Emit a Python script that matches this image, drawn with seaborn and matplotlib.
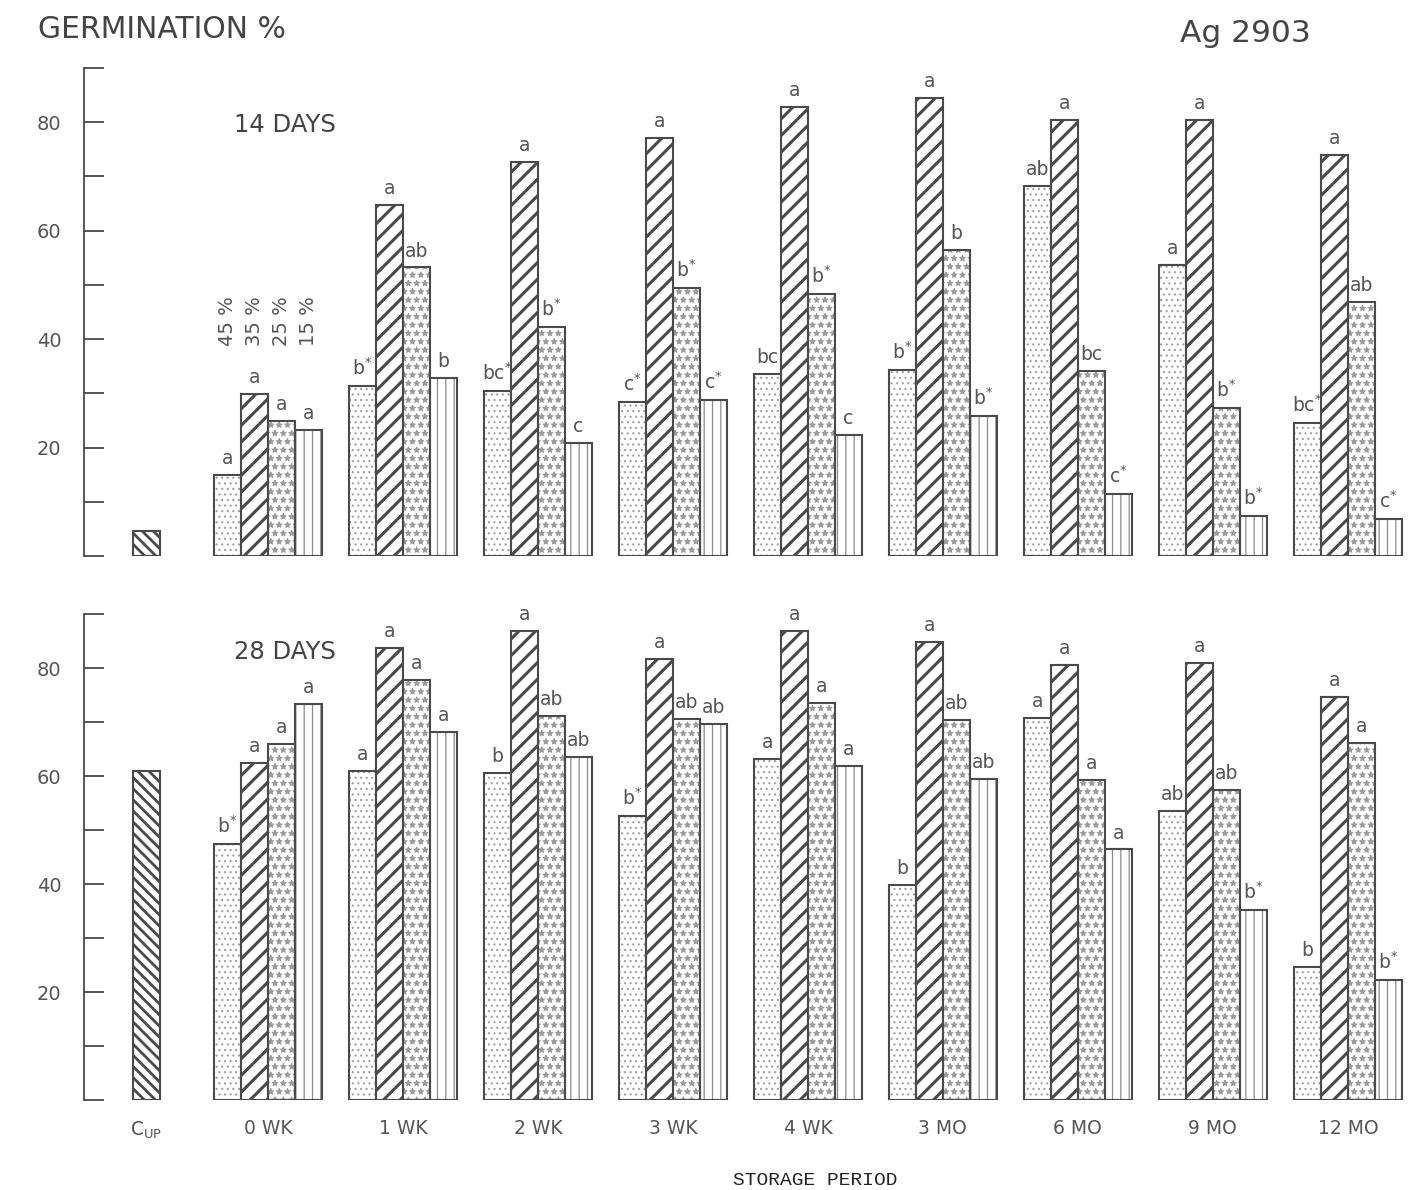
import numpy as np
import pandas as pd
import matplotlib
matplotlib.use("Agg")
import matplotlib.pyplot as plt
from matplotlib.patches import Rectangle
import seaborn as sns

# ---------------- data ----------------
periods = ["C_UP", "0 WK", "1 WK", "2 WK", "3 WK", "4 WK", "3 MO", "6 MO", "9 MO", "12 MO"]
storage = periods[1:]
moisture = ["45 %", "35 %", "25 %", "15 %"]
tick_labels = [r"C$_{\mathrm{UP}}$", "0 WK", "1 WK", "2 WK", "3 WK", "4 WK",
               "3 MO", "6 MO", "9 MO", "12 MO"]

# 14 days
germ14_45 = [15.0, 31.3, 30.4, 28.4, 33.5, 34.3, 68.2, 53.6, 24.6]
germ14_35 = [29.8, 64.8, 72.6, 77.0, 82.8, 84.5, 80.4, 80.4, 73.9]
germ14_25 = [24.9, 53.2, 42.3, 49.5, 48.4, 56.4, 34.2, 27.3, 46.9]
germ14_15 = [23.3, 32.9, 20.9, 28.7, 22.4, 25.8, 11.4, 7.3, 6.8]
cup14 = 4.6
let14_45 = ["a", "b*", "bc*", "c*", "bc", "b*", "ab", "a", "bc*"]
let14_35 = ["a", "a", "a", "a", "a", "a", "a", "a", "a"]
let14_25 = ["a", "ab", "b*", "b*", "b*", "b", "bc", "b*", "ab"]
let14_15 = ["a", "b", "c", "c*", "c", "b*", "c*", "b*", "c*"]

# 28 days
germ28_45 = [47.4, 61.0, 60.5, 52.6, 63.1, 39.8, 70.8, 53.6, 24.7]
germ28_35 = [62.4, 83.7, 86.9, 81.6, 86.9, 84.9, 80.6, 81.0, 74.7]
germ28_25 = [65.9, 77.8, 71.1, 70.5, 73.6, 70.4, 59.3, 57.4, 66.2]
germ28_15 = [73.3, 68.1, 63.5, 69.6, 61.9, 59.4, 46.4, 35.2, 22.3]
cup28 = 60.9
let28_45 = ["b*", "a", "b", "b*", "a", "b", "a", "ab", "b"]
let28_35 = ["a", "a", "a", "a", "a", "a", "a", "a", "a"]
let28_25 = ["a", "a", "ab", "ab", "a", "ab", "a", "ab", "a"]
let28_15 = ["a", "a", "ab", "ab", "a", "ab", "a", "b*", "b*"]

# ---------------- style ----------------
sns.set_style("white")
plt.rcParams["font.family"] = ["DejaVu Sans"]
plt.rcParams["mathtext.fontset"] = "dejavusans"
INK = "#4a4a4a"
TXT = "#555555"
CUP_SHIFT = 0.1  # layout: control bar sits a little right of its slot

styles = {
    "45 %": dict(hatch="...", hc="#a0a0a0", hlw=0.8),
    "35 %": dict(hatch="//", hc="#4a4a4a", hlw=2.2),
    "25 %": dict(hatch="**", hc="#9a9a9a", hlw=0.7),
    "15 %": dict(hatch="||", hc="#8c8c8c", hlw=0.9),
}
cup_style = dict(hatch="\\\\\\", hc="#4a4a4a", hlw=2.0)


def fmt_letter(s):
    if s.endswith("*"):
        return s[:-1] + r"$^{*}$"
    return s


def style_patch(ax, p, st):
    p.set_hatch(st["hatch"])
    p.set_edgecolor(st["hc"])
    p.set_linewidth(0.0)
    if hasattr(p, "set_hatch_linewidth"):
        p.set_hatch_linewidth(st["hlw"])
    ax.add_patch(Rectangle(p.get_xy(), p.get_width(), p.get_height(),
                           fill=False, edgecolor=INK, lw=1.5, zorder=5))


def panel(ax, series, letters, cup, title, moisture_labels):
    rows = []
    for m, vals in zip(moisture, series):
        for per, v in zip(storage, vals):
            rows.append((per, m, v))
    df = pd.DataFrame(rows, columns=["period", "moisture", "germ"])
    sns.barplot(data=df, x="period", y="germ", hue="moisture", order=periods,
                hue_order=moisture, palette=["white"] * 4, saturation=1,
                width=0.8, errorbar=None, legend=False, ax=ax)
    hue_containers = list(ax.containers)
    cup_df = pd.DataFrame({"period": ["C_UP"], "germ": [cup]})
    sns.barplot(data=cup_df, x="period", y="germ", order=periods, color="white",
                saturation=1, width=0.2, errorbar=None, ax=ax)
    cup_container = ax.containers[-1]

    for m, cont, labs in zip(moisture, hue_containers, letters):
        for p in cont:
            if np.isnan(p.get_height()) or p.get_height() == 0:
                continue
            style_patch(ax, p, styles[m])
            cx = p.get_x() + p.get_width() / 2
            idx = int(round(cx))
            ax.annotate(fmt_letter(labs[idx - 1]), (cx, p.get_height()),
                        xytext=(0, 5), textcoords="offset points",
                        ha="center", va="bottom", fontsize=13.5, color=TXT)
            if moisture_labels and idx == 1:
                ax.text(cx, 38.7, m, rotation=90, ha="center", va="bottom",
                        fontsize=14, color=TXT)
    for p in cup_container:
        if p.get_height() > 0:
            p.set_x(p.get_x() + CUP_SHIFT)
            style_patch(ax, p, cup_style)

    ax.set_xlim(-0.363, 9.46)
    ax.set_ylim(0, 90)
    ax.set_yticks(range(0, 91, 10))
    ax.set_yticklabels([str(v) if (v % 20 == 0 and v > 0) else "" for v in range(0, 91, 10)])
    ax.tick_params(axis="y", direction="in", length=14.5, width=1.3, color=INK,
                   labelsize=14, labelcolor=TXT, pad=16, left=True)
    ax.tick_params(axis="x", length=0)
    for s in ["top", "right", "bottom"]:
        ax.spines[s].set_visible(False)
    ax.spines["left"].set_color(INK)
    ax.spines["left"].set_linewidth(1.3)
    ax.set_xlabel("")
    ax.set_ylabel("")
    ax.text(0.1516, title[1], title[0], transform=ax.transAxes, ha="center",
            va="center", fontsize=17.5, color="#444444")
    ax.set_facecolor("white")


fig = plt.figure(figsize=(14.16, 11.9), dpi=100)
fig.patch.set_facecolor("white")
ax1 = fig.add_axes([0.0593, 0.5328, 0.9364, 0.4101])
ax2 = fig.add_axes([0.0593, 0.0756, 0.9364, 0.4084])

panel(ax1, [germ14_45, germ14_35, germ14_25, germ14_15],
      [let14_45, let14_35, let14_25, let14_15], cup14, ("14 DAYS", 0.883), True)
panel(ax2, [germ28_45, germ28_35, germ28_25, germ28_15],
      [let28_45, let28_35, let28_25, let28_15], cup28, ("28 DAYS", 0.922), False)

tick_pos = [i + (CUP_SHIFT if i == 0 else 0) for i in range(len(periods))]
ax1.set_xticks(tick_pos)
ax1.set_xticklabels([])
ax2.set_xticks(tick_pos)
ax2.set_xticklabels(tick_labels, fontsize=13.5, color=TXT)
ax2.tick_params(axis="x", pad=14)

fig.text(0.0268, 0.975, "GERMINATION %", ha="left", va="center",
         fontsize=21.5, color="#444444")
fig.text(0.833, 0.972, "Ag 2903", ha="left", va="center",
         fontsize=22.5, color="#444444")
fig.text(0.5756, 0.0084, "STORAGE PERIOD", ha="center", va="center",
         fontsize=14, color="#222222", family=["Liberation Mono", "DejaVu Sans Mono"])

fig.savefig("out.png", dpi=100, facecolor="white")
